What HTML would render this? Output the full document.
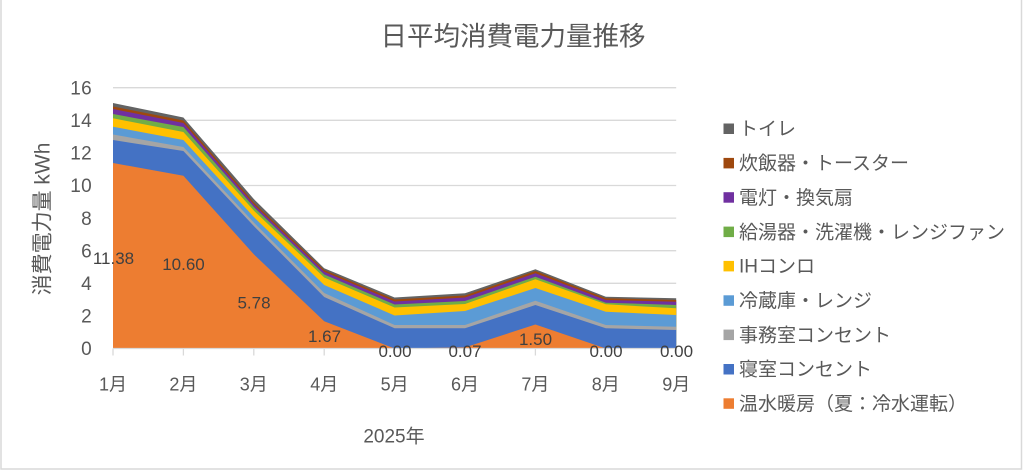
<!DOCTYPE html>
<html><head><meta charset="utf-8"><style>
html,body{margin:0;padding:0;background:#fff;}
svg{display:block;font-family:"Liberation Sans","Noto Sans CJK JP",sans-serif;}
</style></head><body>
<svg width="1024" height="471" viewBox="0 0 1024 471" xmlns="http://www.w3.org/2000/svg">
<rect x="0" y="0" width="1024" height="471" fill="#fff"/>
<rect x="1" y="-5" width="1020.5" height="474" fill="none" stroke="#D9D9D9" stroke-width="1.5"/>
<text x="513" y="36" dy="0.35em" text-anchor="middle" font-size="26.5" fill="#595959">日平均消費電力量推移</text>
<g stroke="#D9D9D9" stroke-width="1.3">
<line x1="113" y1="87.7" x2="676.2" y2="87.7"/>
<line x1="113" y1="120.3" x2="676.2" y2="120.3"/>
<line x1="113" y1="152.9" x2="676.2" y2="152.9"/>
<line x1="113" y1="185.5" x2="676.2" y2="185.5"/>
<line x1="113" y1="218.1" x2="676.2" y2="218.1"/>
<line x1="113" y1="250.7" x2="676.2" y2="250.7"/>
<line x1="113" y1="283.3" x2="676.2" y2="283.3"/>
<line x1="113" y1="315.9" x2="676.2" y2="315.9"/>
</g>
<g>
<polygon fill="#636363" points="113,103 183.4,117.5 253.8,199 324.2,268.3 394.6,297.5 465,293.3 535.4,269.3 605.8,296.7 676.2,298.3 676.2,348.5 113,348.5"/>
<polygon fill="#9E480E" points="113,106.5 183.4,120.5 253.8,202.5 324.2,270 394.6,299.5 465,295.5 535.4,271 605.8,298.3 676.2,300 676.2,348.5 113,348.5"/>
<polygon fill="#7030A0" points="113,109 183.4,123 253.8,204.5 324.2,271.7 394.6,301.5 465,297.5 535.4,273.3 605.8,300 676.2,301.7 676.2,348.5 113,348.5"/>
<polygon fill="#70AD47" points="113,114 183.4,127 253.8,207 324.2,274.5 394.6,304.5 465,301 535.4,276.7 605.8,302.7 676.2,305 676.2,348.5 113,348.5"/>
<polygon fill="#FFC000" points="113,118.3 183.4,132 253.8,210.5 324.2,277.5 394.6,307.5 465,304 535.4,279.3 605.8,304.3 676.2,308.3 676.2,348.5 113,348.5"/>
<polygon fill="#5B9BD5" points="113,126.7 183.4,140 253.8,217 324.2,285 394.6,315.5 465,311 535.4,288 605.8,311.7 676.2,315 676.2,348.5 113,348.5"/>
<polygon fill="#A5A5A5" points="113,134.5 183.4,147 253.8,222.5 324.2,293 394.6,325 465,325 535.4,300.7 605.8,325 676.2,326.7 676.2,348.5 113,348.5"/>
<polygon fill="#4472C4" points="113,140 183.4,151 253.8,226 324.2,297 394.6,328.3 465,328.3 535.4,305 605.8,328.3 676.2,330 676.2,348.5 113,348.5"/>
<polygon fill="#ED7D31" points="113,163 183.4,175.7 253.8,254.3 324.2,321.3 394.6,348.5 465,347.4 535.4,324.5 605.8,348.5 676.2,348.5 676.2,348.5 113,348.5"/>
</g>
<g stroke="#D9D9D9" stroke-width="1.3">
<line x1="113" y1="348.5" x2="676.2" y2="348.5"/>
<line x1="113" y1="348.5" x2="113" y2="355.5"/>
<line x1="183.4" y1="348.5" x2="183.4" y2="355.5"/>
<line x1="253.8" y1="348.5" x2="253.8" y2="355.5"/>
<line x1="324.2" y1="348.5" x2="324.2" y2="355.5"/>
<line x1="394.6" y1="348.5" x2="394.6" y2="355.5"/>
<line x1="465" y1="348.5" x2="465" y2="355.5"/>
<line x1="535.4" y1="348.5" x2="535.4" y2="355.5"/>
<line x1="605.8" y1="348.5" x2="605.8" y2="355.5"/>
<line x1="676.2" y1="348.5" x2="676.2" y2="355.5"/>
</g>
<g font-size="19" fill="#595959" text-anchor="end" letter-spacing="0.3">
<text x="92" y="87.7" dy="0.35em">16</text>
<text x="92" y="120.3" dy="0.35em">14</text>
<text x="92" y="152.9" dy="0.35em">12</text>
<text x="92" y="185.5" dy="0.35em">10</text>
<text x="92" y="218.1" dy="0.35em">8</text>
<text x="92" y="250.7" dy="0.35em">6</text>
<text x="92" y="283.3" dy="0.35em">4</text>
<text x="92" y="315.9" dy="0.35em">2</text>
<text x="92" y="348.5" dy="0.35em">0</text>
</g>
<g font-size="18" fill="#595959" text-anchor="middle">
<text x="113" y="384" dy="0.35em">1月</text>
<text x="183.4" y="384" dy="0.35em">2月</text>
<text x="253.8" y="384" dy="0.35em">3月</text>
<text x="324.2" y="384" dy="0.35em">4月</text>
<text x="394.6" y="384" dy="0.35em">5月</text>
<text x="465" y="384" dy="0.35em">6月</text>
<text x="535.4" y="384" dy="0.35em">7月</text>
<text x="605.8" y="384" dy="0.35em">8月</text>
<text x="676.2" y="384" dy="0.35em">9月</text>
</g>
<text x="394" y="436" dy="0.35em" text-anchor="middle" font-size="19" fill="#595959">2025年</text>
<text transform="translate(42,219) rotate(-90)" dy="0.35em" text-anchor="middle" font-size="21" fill="#595959">消費電力量 kWh</text>
<g font-size="17" fill="#404040" text-anchor="middle">
<text x="113.5" y="258" dy="0.35em">11.38</text>
<text x="183.5" y="264" dy="0.35em">10.60</text>
<text x="254" y="302.5" dy="0.35em">5.78</text>
<text x="324.5" y="336" dy="0.35em">1.67</text>
<text x="395" y="351" dy="0.35em">0.00</text>
<text x="465" y="351" dy="0.35em">0.07</text>
<text x="535.5" y="339" dy="0.35em">1.50</text>
<text x="606" y="351" dy="0.35em">0.00</text>
<text x="676.5" y="351" dy="0.35em">0.00</text>
</g>
<g font-size="19" fill="#595959">
<rect x="723.5" y="123.5" width="10.5" height="10.5" fill="#636363"/>
<text x="739" y="128.5" dy="0.35em">トイレ</text>
<rect x="723.5" y="157.9" width="10.5" height="10.5" fill="#9E480E"/>
<text x="739" y="162.9" dy="0.35em">炊飯器・トースター</text>
<rect x="723.5" y="192.2" width="10.5" height="10.5" fill="#7030A0"/>
<text x="739" y="197.2" dy="0.35em">電灯・換気扇</text>
<rect x="723.5" y="226.6" width="10.5" height="10.5" fill="#70AD47"/>
<text x="739" y="231.6" dy="0.35em">給湯器・洗濯機・レンジファン</text>
<rect x="723.5" y="260.9" width="10.5" height="10.5" fill="#FFC000"/>
<text x="739" y="265.9" dy="0.35em">IHコンロ</text>
<rect x="723.5" y="295.3" width="10.5" height="10.5" fill="#5B9BD5"/>
<text x="739" y="300.3" dy="0.35em">冷蔵庫・レンジ</text>
<rect x="723.5" y="329.6" width="10.5" height="10.5" fill="#A5A5A5"/>
<text x="739" y="334.6" dy="0.35em">事務室コンセント</text>
<rect x="723.5" y="364" width="10.5" height="10.5" fill="#4472C4"/>
<text x="739" y="369" dy="0.35em">寝室コンセント</text>
<rect x="723.5" y="398.3" width="10.5" height="10.5" fill="#ED7D31"/>
<text x="739" y="403.3" dy="0.35em">温水暖房（夏：冷水運転）</text>
</g>
</svg>
</body></html>
